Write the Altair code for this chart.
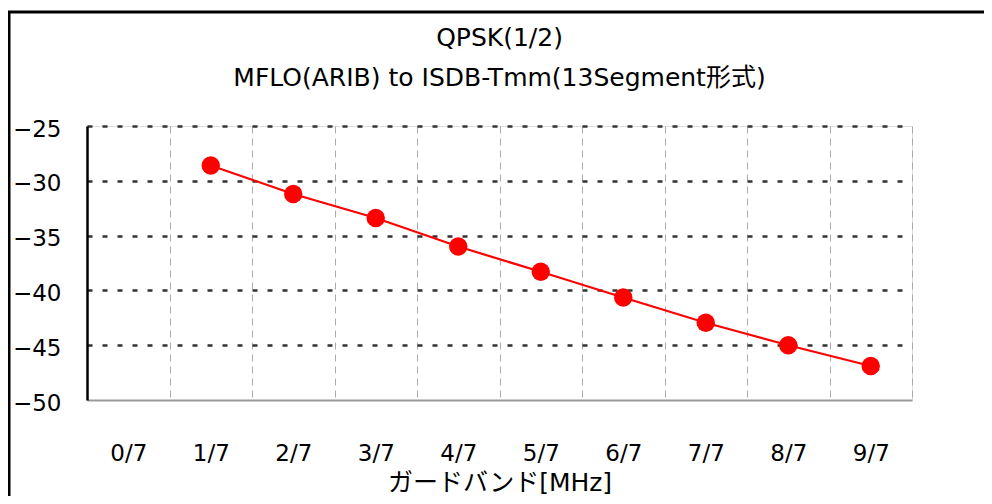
import altair as alt
import pandas as pd

categories = ["0/7", "1/7", "2/7", "3/7", "4/7", "5/7", "6/7", "7/7", "8/7", "9/7"]
point_categories = ["1/7", "2/7", "3/7", "4/7", "5/7", "6/7", "7/7", "8/7", "9/7"]
values = [-28.6, -31.2, -33.4, -36.0, -38.3, -40.65, -42.95, -45.0, -46.9]
y_ticks = [-50, -45, -40, -35, -30, -25]
title_lines = ["QPSK(1/2)", "MFLO(ARIB) to ISDB-Tmm(13Segment形式)"]
x_title = "ガードバンド[MHz]"

df = pd.DataFrame({"band": point_categories, "value": values})
FONT = "DejaVu Sans, Noto Sans CJK JP"

x_enc = alt.X(
    "band:N",
    scale=alt.Scale(domain=categories, paddingInner=0, paddingOuter=0),
    sort=categories,
    axis=alt.Axis(
        title=x_title,
        labelAngle=0,
        tickBand="extent",
        ticks=False,
        grid=True,
        gridColor="#aaaaaa",
        gridDash=[7, 5],
        gridWidth=1,
        domainColor="#999999",
        domainWidth=2,
        labelFont=FONT,
        labelFontSize=23,
        labelColor="#000000",
        labelPadding=42,
        titleFont=FONT,
        titleFontSize=25,
        titleFontWeight="normal",
        titleColor="#000000",
        titlePadding=5,
    ),
)
y_enc = alt.Y(
    "value:Q",
    scale=alt.Scale(domain=[-50, -25], nice=False, zero=False),
    axis=alt.Axis(
        title=None,
        values=y_ticks,
        ticks=False,
        grid=True,
        gridColor="#333333",
        gridDash=[5, 10],
        gridWidth=2.5,
        gridOpacity={"condition": {"test": "datum.value == -50", "value": 0}, "value": 1},
        domainColor="#000000",
        domainWidth=2.5,
        labelFont=FONT,
        labelFontSize=23,
        labelColor="#000000",
        labelPadding=26,
        labelOffset=3,
    ),
)

base = alt.Chart(df)
line = base.mark_line(color="#ff0000", strokeWidth=2.2).encode(x=x_enc, y=y_enc)
points = base.mark_point(filled=True, color="#ff0000", size=340, opacity=1).encode(x=x_enc, y=y_enc)

frame_data = alt.Data(values=[{"k": 1}])
frame_left = alt.Chart(frame_data).mark_rule(color="#000000", strokeWidth=3).encode(
    x=alt.value(-78), y=alt.value(-115), y2=alt.value(420)
)
frame_top = alt.Chart(frame_data).mark_rule(color="#000000", strokeWidth=3).encode(
    x=alt.value(-80), x2=alt.value(920), y=alt.value(-114)
)

chart = alt.layer(line, points, frame_left, frame_top).properties(
    width=825,
    height=274,
    autosize=alt.AutoSizeParams(type="none"),
    padding={"left": 79, "top": 118, "right": 72, "bottom": 96},
    title=alt.TitleParams(
        text=title_lines,
        font=FONT,
        fontSize=25,
        fontWeight="normal",
        color="#000000",
        lineHeight=40,
        anchor="middle",
        offset=-81,
    ),
).configure_view(stroke="#000000", strokeWidth=1.5).configure(background="#ffffff")

chart.save("out.html", embed_options={"renderer": "svg", "actions": False})
